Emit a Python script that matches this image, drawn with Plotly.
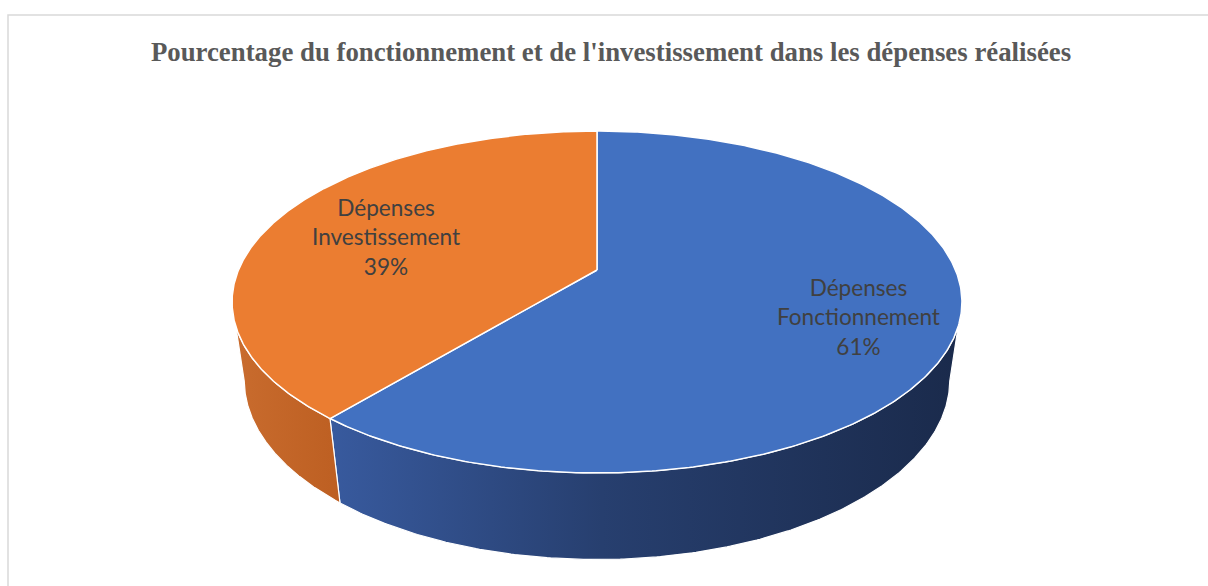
import numpy as np
import plotly.graph_objects as go

# Data
categories = ["Dépenses Fonctionnement", "Dépenses Investissement"]
values = [61, 39]
label_lines = [["Dépenses", "Fonctionnement"], ["Dépenses", "Investissement"]]
top_colors = ["#4271c1", "#eb7d31"]
side_scales = [
    [[0.0, "#385a9e"], [0.43, "#273f6f"], [1.0, "#1a2a4b"]],
    [[0.0, "#c96c2e"], [1.0, "#bd5f22"]],
]

# Perspective pie geometry (screen pixels)
W, H = 1208, 586
CX, CY = 597.0, 270.0      # projected centre of the top face
RX, RY = 358.5, 165.0      # horizontal / depth radii
P = 0.1871                 # perspective foreshortening along depth
K = 0.0333                 # perspective shrink of the base
THICK = 80.0               # pie thickness
label_pos = [(858, 317), (386, 237)]


def project(phi, z):
    """phi: angle clockwise from the back (radians); z: 0 top face, 1 base."""
    u, v = np.sin(phi), np.cos(phi)
    w = 1 + P * v + K * z
    return CX + RX * u / w, CY + (-RY * v + THICK * z) / w


fig = go.Figure()

total = sum(values)
bounds = np.concatenate([[0], np.cumsum(values)]) / total * 2 * np.pi
phi_r = np.arccos(-P)              # right silhouette
phi_l = 2 * np.pi - phi_r          # left silhouette

# Side walls (only the front half is visible)
for i in range(len(values)):
    a0, a1 = max(bounds[i], phi_r), min(bounds[i + 1], phi_l)
    if a1 <= a0:
        continue
    t = np.linspace(a0, a1, 240)
    xt, yt = project(t, 0)
    xb, yb = project(t[::-1], 1)
    xs = np.concatenate([xt, xb, xt[:1]])
    ys = np.concatenate([yt, yb, yt[:1]])
    fig.add_trace(go.Scatter(
        x=xs, y=ys, mode="lines", fill="toself",
        fillgradient=dict(type="horizontal", colorscale=side_scales[i]),
        line=dict(color="white", width=1.2),
        hoverinfo="skip", showlegend=False,
    ))

# Top face slices
for i in range(len(values)):
    t = np.linspace(bounds[i], bounds[i + 1], 400)
    xa, ya = project(t, 0)
    xs = np.concatenate([[CX], xa, [CX]])
    ys = np.concatenate([[CY], ya, [CY]])
    fig.add_trace(go.Scatter(
        x=xs, y=ys, mode="lines", fill="toself",
        fillcolor=top_colors[i],
        line=dict(color="white", width=1.5),
        name=categories[i],
        hovertemplate=f"{categories[i]}: {values[i]}%<extra></extra>",
        showlegend=False,
    ))

# Data labels
for i in range(len(values)):
    pct = round(values[i] / total * 100)
    text = "<br>".join(label_lines[i] + [f"{pct}%"])
    fig.add_annotation(
        x=label_pos[i][0], y=label_pos[i][1], xref="x", yref="y",
        text=text, showarrow=False, align="center",
        font=dict(family="Lato, 'Open Sans', sans-serif", size=22.6, color="#404040"),
    )

# Chart frame
fig.add_shape(type="rect", xref="x", yref="y", x0=8, y0=15, x1=W + 20, y1=H + 20,
              line=dict(color="#d9d9d9", width=1.5), fillcolor="rgba(0,0,0,0)", layer="below")

fig.update_layout(
    width=W, height=H,
    margin=dict(l=0, r=0, t=0, b=0),
    paper_bgcolor="white", plot_bgcolor="white",
    title=dict(
        text="<b>Pourcentage du fonctionnement et de l'investissement dans les dépenses réalisées</b>",
        x=611 / W, xref="container", xanchor="center",
        y=1 - 52 / H, yref="container", yanchor="middle",
        font=dict(family="Liberation Serif, 'Times New Roman', serif", size=26.8, color="#595959"),
    ),
    xaxis=dict(range=[0, W], visible=False, fixedrange=True),
    yaxis=dict(range=[H, 0], visible=False, fixedrange=True),
    showlegend=False,
)

fig.write_html("out.html")
